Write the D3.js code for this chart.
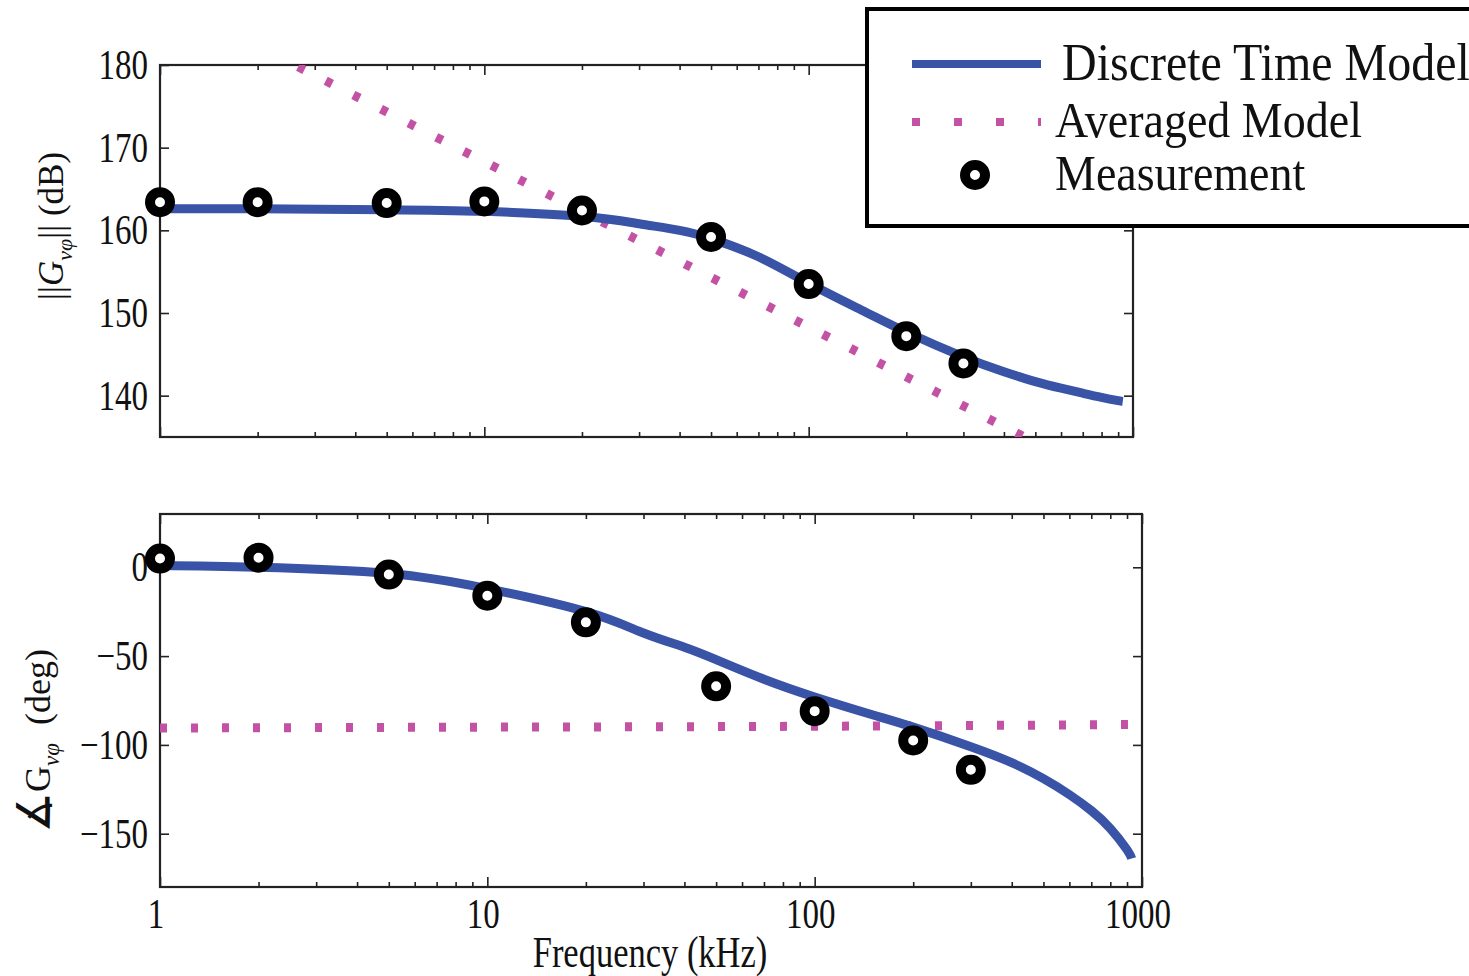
<!DOCTYPE html>
<html>
<head>
<meta charset="utf-8">
<script src="https://cdn.jsdelivr.net/npm/d3@7"></script>
<style>
  body { margin: 0; background: #fff; }
  text { font-family: "Liberation Serif", "Times New Roman", serif; fill: #111; }
</style>
</head>
<body>
<div id="chart"></div>
<script>
// frequency axis (kHz)
const freqTicks = [1, 10, 100, 1000];

// discrete time model
const freqDT = [1, 2, 5, 10, 20, 30, 40, 50, 70, 100, 150, 200, 300, 400, 500, 600, 700, 800, 900, 930];
const magDT = [162.6, 162.6, 162.5, 162.3, 161.7, 160.8, 160.0, 159.0, 156.8, 153.6, 150.1, 147.7, 144.7, 142.9, 141.7, 140.9, 140.3, 139.8, 139.4, 139.3];
const phaseDT = [1, 0, -3.5, -12, -25, -37, -45, -52, -63, -73, -83, -90, -101, -110, -119, -128, -137, -147, -159, -164];

// averaged model
const freqAvg = [1, 10, 100, 1000];
const magAvg = [188.3, 168.3, 148.3, 128.3];
const phaseAvg = [-90.5, -90, -89.5, -88.5];

// measurement
const freqMeas = [1, 2, 5, 10, 20, 50, 100, 200, 300];
const magMeas = [163.4, 163.4, 163.3, 163.5, 162.4, 159.2, 153.5, 147.2, 143.9];
const phaseMeas = [4.9, 5.4, -4.1, -16, -31, -67, -81, -97.5, -114];

const magTicks = [140, 150, 160, 170, 180];
const phaseTicks = [-150, -100, -50, 0];

const W = 1469, H = 976;
const blue = "#3953a6", pink = "#c452a4";

const svg = d3.select("#chart").append("svg")
  .attr("width", W).attr("height", H);
svg.append("rect").attr("width", W).attr("height", H).attr("fill", "#fff");

// stretched serif text helper
function txt(g, x, y, s, fs, sy, anchor) {
  return g.append("text")
    .attr("transform", "translate(" + x + "," + y + ") scale(1," + sy + ")")
    .attr("font-size", fs)
    .attr("text-anchor", anchor || "start")
    .text(s);
}

const minors = [];
[1, 10, 100].forEach(d => { for (let k = 2; k <= 9; k++) minors.push(d * k); });

function panel(cfg) {
  const x = cfg.x, y = cfg.y;
  const g = svg.append("g");
  const [x0, x1] = x.range(), [y0, y1] = y.range();

  const clipId = "clip" + cfg.id;
  svg.append("clipPath").attr("id", clipId)
    .append("rect").attr("x", x0).attr("y", y1).attr("width", x1 - x0).attr("height", y0 - y1);

  // ticks on all four sides, pointing inward
  const axes = [
    [d3.axisBottom(x).tickValues(freqTicks).tickSize(-10), y0],
    [d3.axisBottom(x).tickValues(minors).tickSize(-5), y0],
    [d3.axisTop(x).tickValues(freqTicks).tickSize(-10), y1],
    [d3.axisTop(x).tickValues(minors).tickSize(-5), y1]
  ];
  axes.forEach(([ax, pos]) => {
    g.append("g").attr("transform", "translate(0," + pos + ")")
      .call(ax.tickFormat(""))
      .call(s => s.select(".domain").remove())
      .call(s => s.selectAll("line").attr("stroke", "#222").attr("stroke-width", 1.6));
  });
  [[d3.axisLeft(y), x0], [d3.axisRight(y), x1]].forEach(([ax, pos]) => {
    g.append("g").attr("transform", "translate(" + pos + ",0)")
      .call(ax.tickValues(cfg.yTicks).tickSize(-9).tickFormat(""))
      .call(s => s.select(".domain").remove())
      .call(s => s.selectAll("line").attr("stroke", "#222").attr("stroke-width", 1.6));
  });

  g.append("rect")
    .attr("x", x0).attr("y", y1).attr("width", x1 - x0).attr("height", y0 - y1)
    .attr("fill", "none").attr("stroke", "#222").attr("stroke-width", 2.2);

  // y tick labels
  cfg.yTicks.forEach(v => {
    txt(g, x0 - 12, y(v) + 14, cfg.fmt(v), 33, 1.25, "end");
  });

  const line = d3.line().x(d => x(d[0])).y(d => y(d[1])).curve(d3.curveNatural);
  const plot = svg.append("g").attr("clip-path", "url(#" + clipId + ")");

  plot.append("path")
    .attr("d", line(freqAvg.map((f, i) => [f, cfg.avg[i]])))
    .attr("fill", "none").attr("stroke", pink).attr("stroke-width", 9)
    .attr("stroke-dasharray", "7 24");

  plot.append("path")
    .attr("d", line(freqDT.map((f, i) => [f, cfg.dt[i]])))
    .attr("fill", "none").attr("stroke", blue).attr("stroke-width", 9);

  svg.append("g").selectAll("circle")
    .data(freqMeas.map((f, i) => [f, cfg.meas[i]]))
    .join("circle")
    .attr("cx", d => x(d[0])).attr("cy", d => y(d[1]))
    .attr("r", 10).attr("fill", "#fff").attr("stroke", "#000").attr("stroke-width", 10);
}

const xTop = d3.scaleLog().domain([1, 1000]).range([160, 1133]);
const yTop = d3.scaleLinear().domain([135, 180]).range([437, 65]);
const xBot = d3.scaleLog().domain([1, 1000]).range([160, 1142]);
const yBot = d3.scaleLinear().domain([-180, 30]).range([887, 514]);

panel({ id: "a", x: xTop, y: yTop, yTicks: magTicks, fmt: d => String(d),
        dt: magDT, avg: magAvg, meas: magMeas });
panel({ id: "b", x: xBot, y: yBot, yTicks: phaseTicks, fmt: d => d < 0 ? "\u2212" + (-d) : String(d),
        dt: phaseDT, avg: phaseAvg, meas: phaseMeas });

// x tick labels (bottom panel only)
freqTicks.forEach(f => {
  txt(svg, xBot(f) - 4, 928, String(f), 33, 1.25, "middle");
});
txt(svg, 650, 967, "Frequency (kHz)", 34.5, 1.28, "middle");

// y axis labels
const yl1 = svg.append("text")
  .attr("transform", "translate(63,226) rotate(-90)")
  .attr("text-anchor", "middle").attr("font-size", 35);
yl1.append("tspan").text("||");
yl1.append("tspan").attr("font-style", "italic").text("G");
yl1.append("tspan").attr("font-style", "italic").attr("font-size", 22).attr("dy", 9).text("v\u03c6");
yl1.append("tspan").attr("dy", -9).text("||\u00a0(dB)");

const yl2 = svg.append("text")
  .attr("transform", "translate(50,741) rotate(-90)")
  .attr("text-anchor", "middle").attr("font-size", 36);
yl2.append("tspan").attr("font-size", 46).attr("font-family", "DejaVu Sans").attr("font-weight", 200).text("\u2221");
yl2.append("tspan").text("G");
yl2.append("tspan").attr("font-style", "italic").attr("font-size", 23).attr("dy", 9).text("v\u03c6");
yl2.append("tspan").attr("dy", -9).text("\u00a0\u00a0(deg)");

// legend
const lg = svg.append("g");
lg.append("rect").attr("x", 867).attr("y", 9).attr("width", 700).attr("height", 217)
  .attr("fill", "#fff").attr("stroke", "#000").attr("stroke-width", 4);
lg.append("line").attr("x1", 912).attr("x2", 1041).attr("y1", 64).attr("y2", 64)
  .attr("stroke", blue).attr("stroke-width", 8);
lg.append("line").attr("x1", 912).attr("x2", 1041).attr("y1", 122).attr("y2", 122)
  .attr("stroke", pink).attr("stroke-width", 8).attr("stroke-dasharray", "8 34");
lg.append("circle").attr("cx", 975).attr("cy", 175).attr("r", 10)
  .attr("fill", "#fff").attr("stroke", "#000").attr("stroke-width", 10);
txt(lg, 1062, 80, "Discrete Time Model", 48, 1.1);
txt(lg, 1055, 137, "Averaged Model", 46, 1.12);
txt(lg, 1055, 190, "Measurement", 46, 1.12);
</script>
</body>
</html>
